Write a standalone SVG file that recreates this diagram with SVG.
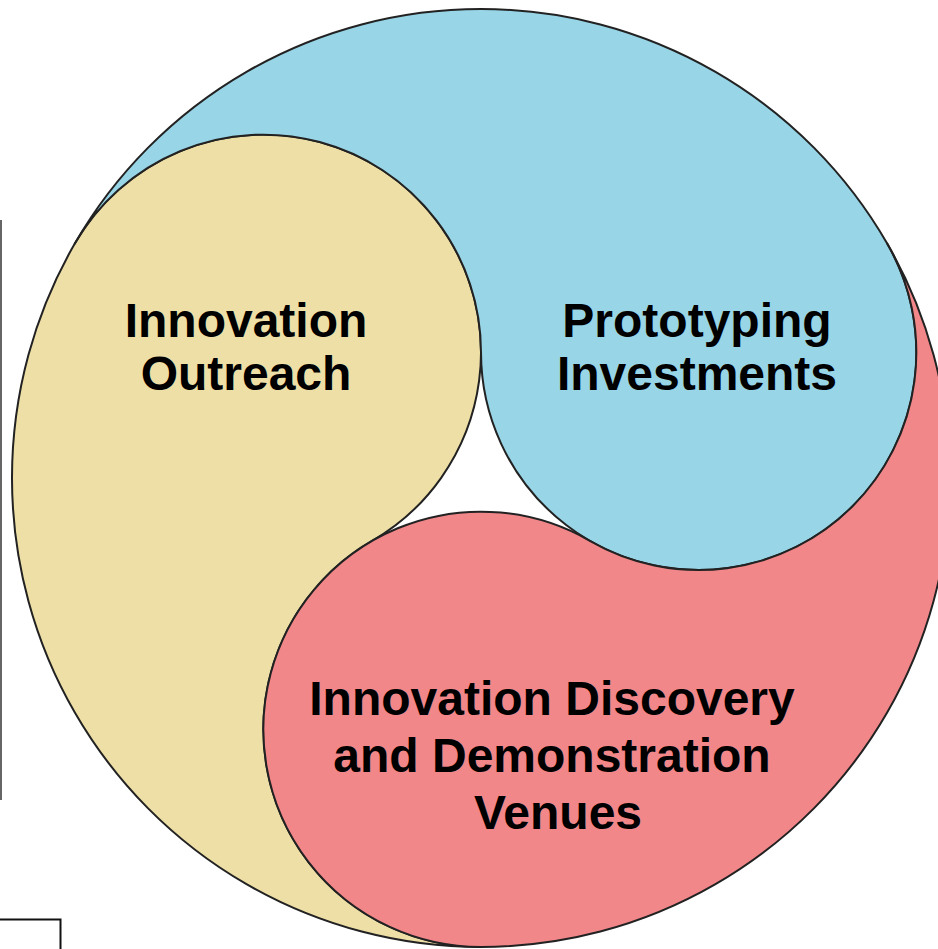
<svg xmlns="http://www.w3.org/2000/svg" width="938" height="949" viewBox="0 0 938 949">
  <style>
    .shape { stroke: #222; stroke-width: 2; stroke-linejoin: round; }
    .yellow { fill: #EEDFA6; }
    .blue { fill: #98D5E7; }
    .red { fill: #F2878A; }
    .label { font-family: "Liberation Sans", Arial, sans-serif; font-weight: bold; font-size: 48px; fill: #000; text-anchor: middle; }
    .frame { fill: none; stroke-width: 2; }
  </style>
  <rect x="0" y="0" width="938" height="949" fill="#FFFFFF"/>
  <g id="frame-lines">
    <line class="frame" x1="1" y1="220" x2="1" y2="800" stroke="#666"/>
    <path class="frame" d="M0 919.5 H60.5 V949" stroke="#111"/>
  </g>
  <g id="node-outreach">
    <path class="shape yellow" d="M74.83 243.5 A217.66 217.66 0 1 1 372.17 540.83 A217.66 217.66 0 0 0 481 947 A469 469 0 0 1 74.83 243.5 Z"/>
    <text class="label" x="246" y="337">Innovation</text>
    <text class="label" x="246" y="390">Outreach</text>
  </g>
  <g id="node-prototyping">
    <path class="shape blue" d="M887.17 243.5 A217.66 217.66 0 1 1 481 352.33 A217.66 217.66 0 0 0 74.83 243.5 A469 469 0 0 1 887.17 243.5 Z"/>
    <text class="label" x="697" y="337">Prototyping</text>
    <text class="label" x="697" y="390">Investments</text>
  </g>
  <g id="node-discovery">
    <path class="shape red" d="M481 947 A217.66 217.66 0 1 1 589.83 540.83 A217.66 217.66 0 0 0 887.17 243.5 A469 469 0 0 1 481 947 Z"/>
    <text class="label" x="552" y="715">Innovation Discovery</text>
    <text class="label" x="552" y="772">and Demonstration</text>
    <text class="label" x="558" y="829">Venues</text>
  </g>
  <g id="connectors"></g>
</svg>
